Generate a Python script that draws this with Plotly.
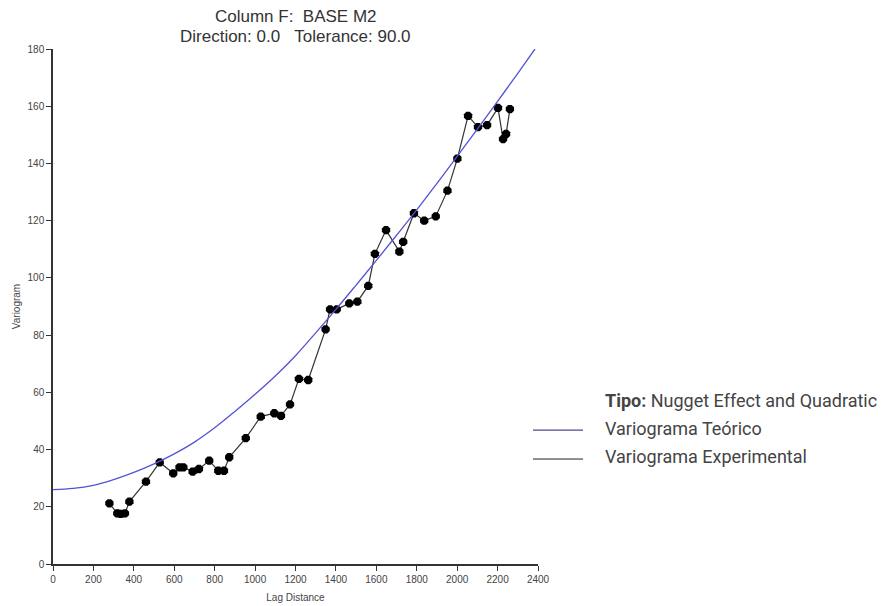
import plotly.graph_objects as go

# Experimental variogram (lag distance, variogram)
lag = [279, 318, 335, 356, 378, 460, 528, 595, 626, 645, 691, 722, 773, 818,
       846, 872, 954, 1028, 1095, 1128, 1173, 1217, 1263, 1349, 1371, 1404,
       1466, 1506, 1560, 1593, 1648, 1714, 1733, 1786, 1837, 1894, 1952, 2001,
       2054, 2103, 2148, 2202, 2227, 2242, 2261]
gamma = [21.2, 17.7, 17.5, 17.7, 21.8, 28.8, 35.5, 31.7, 33.8, 33.8, 32.3,
         33.2, 36.1, 32.6, 32.6, 37.3, 44.0, 51.5, 52.7, 51.8, 55.8, 64.7,
         64.3, 82.0, 89.0, 89.0, 91.1, 91.7, 97.2, 108.4, 116.7, 109.2, 112.6,
         122.6, 120.0, 121.5, 130.5, 141.7, 156.6, 152.7, 153.4, 159.4, 148.5,
         150.3, 159.0]

# Theoretical model curve (nugget effect + quadratic)
model_lag = [0, 100, 200, 300, 400, 500, 600, 700, 800, 900, 1000, 1100,
             1200, 1300, 1400, 1500, 1600, 1700, 1800, 1900, 2000, 2100,
             2200, 2300, 2385]
model_gamma = [26.0, 26.4, 27.5, 29.5, 32.0, 35.0, 38.5, 42.6, 47.6, 53.3,
               59.3, 65.7, 72.8, 80.8, 89.0, 97.5, 106.1, 114.9, 123.8,
               133.0, 142.5, 152.0, 161.7, 171.5, 180.0]

x_ticks = [0, 200, 400, 600, 800, 1000, 1200, 1400, 1600, 1800, 2000, 2200, 2400]
y_ticks = [0, 20, 40, 60, 80, 100, 120, 140, 160, 180]

title_line1 = "Column F:\u00a0\u00a0BASE M2"
title_line2 = "Direction: 0.0\u00a0\u00a0\u00a0Tolerance: 90.0"
legend_header = "<b>Tipo:</b> Nugget Effect and Quadratic"
legend_names = ["Variograma Teórico", "Variograma Experimental"]
legend_colors = ["#1f1f70", "#222222"]

fig = go.Figure()
fig.add_trace(go.Scatter(
    x=lag, y=gamma, mode="lines+markers",
    line=dict(color="#333333", width=1.2),
    marker=dict(symbol="octagon", size=9, color="black"),
    name=legend_names[1], showlegend=False))
fig.add_trace(go.Scatter(
    x=model_lag, y=model_gamma, mode="lines",
    line=dict(color="#5252d8", width=1.3, shape="spline"),
    name=legend_names[0], showlegend=False))

axis_font = dict(family="Liberation Sans, Arial", size=10, color="#444444")

fig.update_layout(
    width=883, height=606, autosize=False,
    margin=dict(l=53, r=345, t=49, b=42),
    paper_bgcolor="white", plot_bgcolor="white",
    xaxis=dict(range=[0, 2400], tickvals=x_ticks, ticks="outside", ticklen=5,
               tickcolor="#333333", tickwidth=1.2, showline=True,
               linecolor="#333333", linewidth=1.5, showgrid=False,
               zeroline=False, tickfont=axis_font, automargin=False,
               title=dict(text="Lag Distance", font=axis_font, standoff=10)),
    yaxis=dict(range=[0, 180], tickvals=y_ticks, ticks="outside", ticklen=5,
               tickcolor="#333333", tickwidth=1.2, showline=True,
               linecolor="#333333", linewidth=1.5, showgrid=False,
               zeroline=False, tickfont=axis_font, automargin=False,
               title=dict(text="Variogram", font=axis_font, standoff=5)),
    showlegend=False,
)

title_font = dict(family="Liberation Sans, Arial", size=17, color="#333333")
fig.add_annotation(text=title_line1, xref="paper", yref="paper", x=0.5,
                   y=1.064, xanchor="center", yanchor="middle",
                   showarrow=False, font=title_font)
fig.add_annotation(text=title_line2, xref="paper", yref="paper", x=0.5,
                   y=1.025, xanchor="center", yanchor="middle",
                   showarrow=False, font=title_font)

leg_font = dict(family="Roboto", size=18, color="#444444")
fig.add_annotation(text=legend_header, xref="paper", yref="paper", x=1.134,
                   y=0.3184, xanchor="left", yanchor="middle",
                   showarrow=False, font=leg_font)
for name, color, yy in zip(legend_names, legend_colors, [0.2640, 0.2078]):
    fig.add_annotation(text=name, xref="paper", yref="paper", x=1.134,
                       y=yy, xanchor="left", yanchor="middle",
                       showarrow=False, font=leg_font)
    fig.add_shape(type="line", xref="paper", yref="paper", x0=0.9897,
                  x1=1.0928, y0=yy - 0.004, y1=yy - 0.004,
                  line=dict(color=color, width=1))

fig.write_html(
    "out.html",
    config={"displayModeBar": False},
    post_script="document.body.style.margin='0';"
                "document.body.style.overflow='hidden';",
)
